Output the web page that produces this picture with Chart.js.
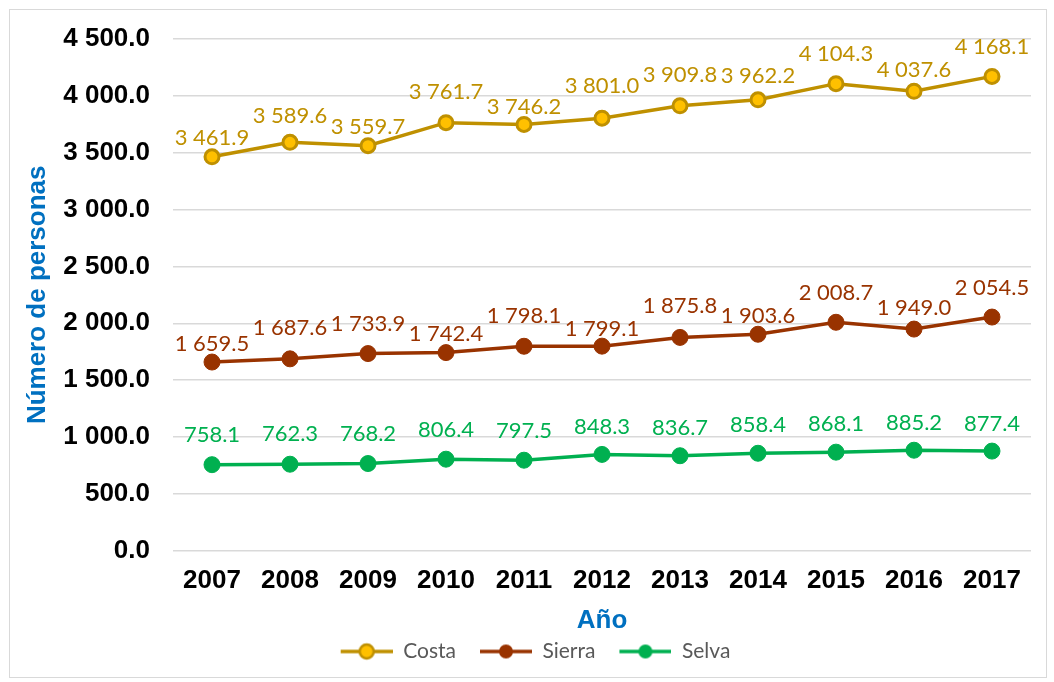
<!DOCTYPE html>
<html>
<head>
<meta charset="utf-8">
<script src="https://cdn.jsdelivr.net/npm/chart.js@4.4.1/dist/chart.umd.min.js"></script>
<style>
  html, body { margin: 0; padding: 0; background: #fff; }
  #wrap { position: absolute; left: 0; top: 0; width: 1054px; height: 682px; }
</style>
</head>
<body>
<div id="wrap"><canvas id="c" width="1054" height="682"></canvas></div>
<script>
// ---- data ----
const years = ['2007','2008','2009','2010','2011','2012','2013','2014','2015','2016','2017'];
const costa  = [3461.9, 3589.6, 3559.7, 3761.7, 3746.2, 3801.0, 3909.8, 3962.2, 4104.3, 4037.6, 4168.1];
const sierra = [1659.5, 1687.6, 1733.9, 1742.4, 1798.1, 1799.1, 1875.8, 1903.6, 2008.7, 1949.0, 2054.5];
const selva  = [758.1, 762.3, 768.2, 806.4, 797.5, 848.3, 836.7, 858.4, 868.1, 885.2, 877.4];
const yTicks = [0, 500, 1000, 1500, 2000, 2500, 3000, 3500, 4000, 4500];
const seriesNames = ['Costa', 'Sierra', 'Selva'];

// label placement (pixels above the point), as placed in the original
const costaLift  = [19, 26, 19, 31, 18, 32, 31, 24, 30, 21, 29];
const sierraLift = [18, 31, 30, 19, 30, 17, 32, 18, 29, 21, 29];
const selvaLift  = [30, 30, 30, 29, 29, 28, 28, 28, 28, 27, 27];

const C_COSTA = '#BF9000', C_COSTA_FILL = '#FFC000';
const C_SIERRA = '#993300';
const C_SELVA = '#00B050';

function fmt(v) {
  const s = v.toFixed(1);
  const [i, d] = s.split('.');
  return i.replace(/\B(?=(\d{3})+(?!\d))/g, ' ') + '.' + d;
}

function legendImg(line, fill, border) {
  const cv = document.createElement('canvas');
  cv.width = 72; cv.height = 20;
  const g = cv.getContext('2d');
  g.strokeStyle = line; g.lineWidth = 3.5;
  g.beginPath(); g.moveTo(20, 10); g.lineTo(72, 10); g.stroke();
  g.beginPath(); g.arc(46, 10, 7, 0, Math.PI * 2);
  g.fillStyle = fill; g.fill();
  if (border) { g.lineWidth = 2.5; g.strokeStyle = border; g.stroke(); }
  return cv;
}

const lifts = [costaLift, sierraLift, selvaLift];

const labelPlugin = {
  id: 'pointLabels',
  afterDatasetsDraw(chart) {
    const ctx = chart.ctx;
    ctx.save();
    ctx.font = '22px Lato';
    ctx.textAlign = 'center';
    ctx.textBaseline = 'middle';
    chart.data.datasets.forEach((ds, di) => {
      const meta = chart.getDatasetMeta(di);
      ctx.fillStyle = ds.labelColor;
      meta.data.forEach((pt, i) => {
        ctx.fillText(fmt(ds.data[i]), pt.x, pt.y - lifts[di][i]);
      });
    });
    ctx.restore();
  }
};

const borderPlugin = {
  id: 'outerBorder',
  beforeDraw(chart) {
    const ctx = chart.ctx;
    ctx.save();
    ctx.strokeStyle = '#D9D9D9';
    ctx.lineWidth = 1;
    ctx.strokeRect(9.5, 9.5, 1037, 668);
    ctx.restore();
  }
};

new Chart(document.getElementById('c'), {
  type: 'line',
  data: {
    labels: years,
    datasets: [
      { label: seriesNames[0], data: costa, borderColor: C_COSTA, backgroundColor: C_COSTA_FILL,
        pointBackgroundColor: C_COSTA_FILL, pointBorderColor: C_COSTA, pointBorderWidth: 3,
        pointRadius: 7, borderWidth: 3.5, labelColor: C_COSTA,
        pointStyle: 'circle', legendImage: legendImg(C_COSTA, C_COSTA_FILL, C_COSTA) },
      { label: seriesNames[1], data: sierra, borderColor: C_SIERRA, backgroundColor: C_SIERRA,
        pointBackgroundColor: C_SIERRA, pointBorderColor: C_SIERRA, pointBorderWidth: 1,
        pointRadius: 8, borderWidth: 3.5, labelColor: C_SIERRA,
        legendImage: legendImg(C_SIERRA, C_SIERRA, null) },
      { label: seriesNames[2], data: selva, borderColor: C_SELVA, backgroundColor: C_SELVA,
        pointBackgroundColor: C_SELVA, pointBorderColor: C_SELVA, pointBorderWidth: 1,
        pointRadius: 8, borderWidth: 3.5, labelColor: C_SELVA,
        legendImage: legendImg(C_SELVA, C_SELVA, null) }
    ]
  },
  options: {
    responsive: false,
    animation: false,
    layout: { padding: { left: 20, right: 23, top: 38, bottom: 10 } },
    plugins: {
      tooltip: { enabled: false },
      legend: {
        position: 'bottom',
        align: 'center',
        labels: {
          usePointStyle: true,
          pointStyleWidth: 72,
          boxHeight: 20,
          padding: 4,
          color: '#595959',
          font: { family: 'Lato', size: 21 },
          generateLabels(chart) {
            return chart.data.datasets.map((ds, i) => ({
              text: ds.label, pointStyle: ds.legendImage, fillStyle: ds.borderColor,
              strokeStyle: ds.borderColor, lineWidth: 0, hidden: false, datasetIndex: i,
              fontColor: '#595959'
            }));
          }
        }
      }
    },
    scales: {
      x: {
        offset: true,
        grid: { display: false, drawTicks: false },
        border: { display: false },
        ticks: { color: '#000', padding: 14, font: { family: 'Liberation Sans', size: 26, weight: 'bold' } },
        title: { display: true, text: 'Año', color: '#0070C0', padding: { top: 0, bottom: 3 },
                 font: { family: 'Liberation Sans', size: 26, weight: 'bold', lineHeight: 1 } },
        afterFit(s) { s.height = 86; }
      },
      y: {
        min: 0, max: 4500,
        afterBuildTicks(s) { s.ticks = yTicks.map(v => ({ value: v })); },
        grid: { color: '#D9D9D9', lineWidth: 1.5, drawTicks: false },
        border: { display: false },
        ticks: { color: '#000', padding: 23, callback: v => fmt(v),
                 font: { family: 'Liberation Sans', size: 26, weight: 'bold' } },
        title: { display: true, text: 'Número de personas', color: '#0070C0', padding: { top: 5, bottom: 0 },
                 font: { family: 'Liberation Sans', size: 26, weight: 'bold', lineHeight: 1 } },
        afterFit(s) { s.width = 153; }
      }
    }
  },
  plugins: [labelPlugin, borderPlugin]
});
</script>
</body>
</html>
